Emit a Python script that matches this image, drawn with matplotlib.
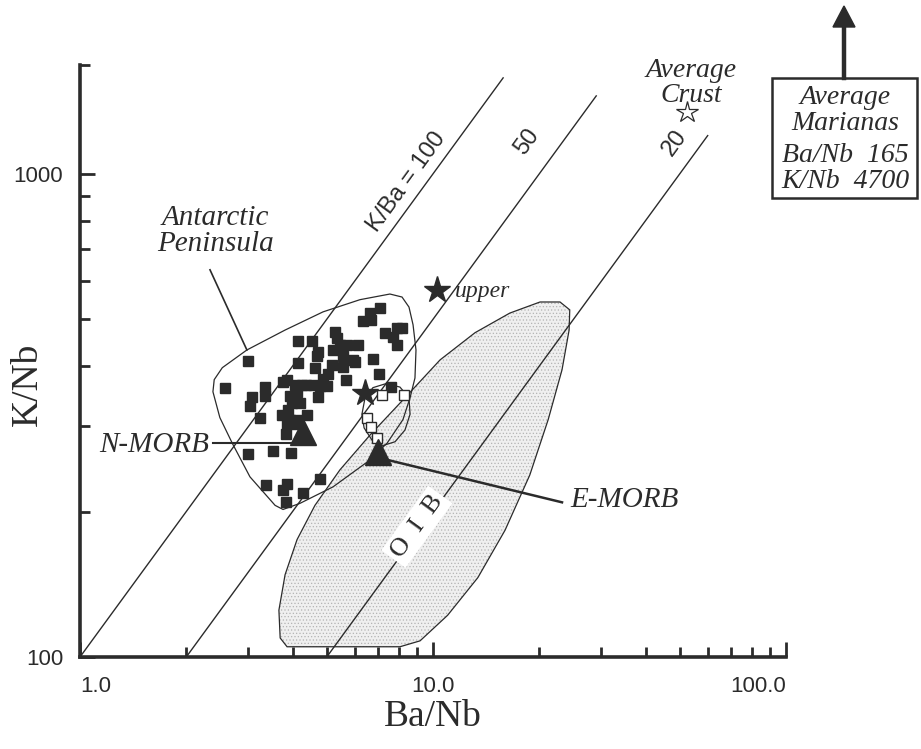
import matplotlib.pyplot as plt
import matplotlib.ticker as mticker
from matplotlib.patches import Polygon, Rectangle

plt.rcParams['font.family'] = ['Liberation Serif', 'DejaVu Serif']
plt.rcParams['hatch.linewidth'] = 0.5

# Antarctic Peninsula lavas (filled squares)
ap_ba_nb = [7.10, 6.65, 6.35, 6.69, 5.26, 5.36, 7.33, 7.93, 8.19, 7.68, 7.93, 4.15, 4.55, 5.46,
            5.72, 6.15, 5.22, 3.00, 4.15, 4.70, 4.73, 5.57, 5.94, 6.03, 6.78, 4.64, 5.19, 5.57,
            5.05, 7.05, 5.68, 4.89, 2.58, 3.35, 3.77, 3.87, 4.07, 4.26, 4.38, 4.58, 4.80, 5.02,
            7.62, 3.08, 3.35, 4.73, 3.94, 4.13, 4.21, 3.99, 3.89, 3.74, 3.03, 3.24, 3.94, 4.15,
            4.40, 3.87, 4.13, 3.84, 3.00, 3.53, 3.97, 3.37, 3.87, 3.77, 4.29, 4.80, 3.84]
ap_k_nb = [528, 516, 496, 499, 471, 457, 469, 480, 480, 460, 442, 451, 451, 442,
           442, 442, 432, 410, 406, 420, 428, 420, 412, 408, 414, 397, 402, 398,
           385, 385, 375, 376, 360, 362, 371, 375, 366, 366, 366, 366, 364, 364,
           362, 345, 347, 345, 347, 354, 336, 336, 325, 317, 331, 313, 310, 310,
           317, 304, 304, 290, 263, 267, 264, 227, 228, 222, 219, 234, 209]

# open squares
open_ba_nb = [7.19, 8.30, 6.52, 6.69, 6.96]
open_k_nb = [349, 349, 313, 299, 284]

# reference compositions
nmorb = [4.29, 292]
emorb = [6.99, 266]
upper_crust = [10.26, 575]
mid_star = [6.42, 352]
avg_crust = [52.5, 1343]

# K/Ba reference lines
kba_ratios = [100, 50, 20]
kba_ends = [15.8, 29.0, 60.0]
kba_labels = ['K/Ba = 100', '50', '20']
kba_label_pos = [[8.4, 960], [18.5, 1165], [48.5, 1160]]

# Antarctic Peninsula field outline
apf_x = [2.38, 2.40, 2.53, 2.97, 3.81, 4.88, 6.21, 7.55, 8.17, 8.55, 8.78, 8.95, 8.89, 8.61,
         8.22, 7.41, 6.50, 5.21, 4.20, 3.76, 3.57, 3.03, 2.70, 2.49]
apf_y = [354, 375, 397, 432, 475, 518, 549, 564, 556, 530, 487, 432, 378, 344,
         310, 277, 253, 225, 208, 202, 206, 236, 277, 313]

# OIB field outline
oib_x = [3.86, 3.69, 3.66, 3.81, 4.12, 4.63, 5.45, 6.63, 8.33, 10.47, 13.15, 16.5, 20.1, 22.9,
         24.4, 24.3, 23.2, 21.2, 18.8, 16.0, 13.4, 11.0, 9.19, 8.06]
oib_y = [105, 109.5, 125, 148, 175, 206, 244, 288, 344, 412, 469, 515, 543, 543,
         523, 475, 393, 310, 238, 183, 146, 122, 108, 105]

# small loop round the open squares
loop_x = [6.29, 6.42, 6.76, 7.36, 8.06, 8.55, 8.61, 8.33, 7.81, 7.22, 6.72, 6.38]
loop_y = [318, 344, 361, 368, 362, 344, 318, 295, 279, 274, 281, 298]

ink = '#2b2b2b'

fig = plt.figure(figsize=(9.21, 7.49), dpi=100)
ax = fig.add_axes([80 / 921, 92 / 749, 706 / 921, 592 / 749])
ax.set_xscale('log')
ax.set_yscale('log')
ax.set_xlim(1, 100)
ax.set_ylim(100, 1680)

# fields
ax.add_patch(Polygon(list(zip(oib_x, oib_y)), closed=True, facecolor='#efefef',
                     edgecolor='#b4b4b4', hatch='.....', lw=0, zorder=1))
ax.add_patch(Polygon(list(zip(oib_x, oib_y)), closed=True, facecolor='none',
                     edgecolor=ink, lw=0.9, zorder=2))
ax.add_patch(Polygon(list(zip(apf_x, apf_y)), closed=True, facecolor='none',
                     edgecolor=ink, lw=0.9, zorder=2))
ax.add_patch(Polygon(list(zip(loop_x, loop_y)), closed=True, facecolor='none',
                     edgecolor=ink, lw=0.9, zorder=2))

# K/Ba lines
for r, xe, lab, pos in zip(kba_ratios, kba_ends, kba_labels, kba_label_pos):
    ax.plot([100 / r, xe], [100, r * xe], color=ink, lw=1.0, zorder=2)
    ax.text(pos[0], pos[1], lab, family='Liberation Sans', fontsize=17, rotation=54,
            ha='center', va='center', rotation_mode='anchor', color=ink)

ax.text(9.0, 186, 'O  I  B', fontsize=19, rotation=54, ha='center', va='center',
        rotation_mode='anchor', color=ink, zorder=3,
        bbox=dict(boxstyle='square,pad=0.15', fc='white', ec='none'))

# samples
ax.plot(ap_ba_nb, ap_k_nb, 's', ms=6.5, color=ink, mec=ink, zorder=4)
ax.plot(open_ba_nb, open_k_nb, 's', ms=6.5, mfc='white', mec=ink, mew=1.0, zorder=4)

# MORB triangles and stars
ax.plot(*nmorb, '^', ms=19, color=ink, zorder=5)
ax.plot(*emorb, '^', ms=19, color=ink, zorder=5)
ax.plot(*upper_crust, '*', ms=20, color=ink, zorder=5)
ax.plot(*mid_star, '*', ms=20, color=ink, zorder=5)
ax.plot(*avg_crust, '*', ms=16, mfc='white', mec=ink, mew=0.9, zorder=5)

# labels and leader lines
ax.plot([2.38, 4.29], [277, 277], color=ink, lw=1.5, zorder=4)
ax.text(2.32, 275, 'N-MORB', fontsize=21, style='italic', ha='right', va='center', color=ink)
ax.plot([7.4, 23.2], [256, 209], color=ink, lw=1.8, zorder=4)
ax.text(24.5, 211, 'E-MORB', fontsize=21, style='italic', ha='left', va='center', color=ink)
ax.plot([2.335, 2.97], [633, 432], color=ink, lw=1.2, zorder=4)
ax.text(2.42, 760, 'Antarctic\nPeninsula', fontsize=21, style='italic', ha='center',
        va='center', linespacing=1.0, color=ink)
ax.text(11.5, 572, 'upper', fontsize=17, style='italic', ha='left', va='center', color=ink)
ax.text(54, 1540, 'Average\nCrust', fontsize=20, style='italic', ha='center', va='center',
        linespacing=1.0, color=ink)

ax.set_xlabel('Ba/Nb', fontsize=27, color=ink)
ax.set_ylabel('K/Nb', fontsize=27, color=ink)
ax.xaxis.set_label_coords(0.5, -0.072)
ax.yaxis.set_label_coords(-0.05, 0.46)

# axes styling
for s in ['top', 'right']:
    ax.spines[s].set_visible(False)
for s in ['left', 'bottom']:
    ax.spines[s].set_linewidth(2.6)
    ax.spines[s].set_color(ink)

ax.xaxis.set_major_locator(mticker.FixedLocator([1, 10, 100]))
ax.xaxis.set_minor_locator(mticker.FixedLocator([m * d for d in (1, 10) for m in range(2, 10)]))
ax.yaxis.set_major_locator(mticker.FixedLocator([100, 1000]))
ax.yaxis.set_minor_locator(mticker.FixedLocator([m * 100 for m in range(2, 10)] + [1680]))
ax.xaxis.set_major_formatter(mticker.FixedFormatter(['1.0', '10.0', '100.0']))
ax.yaxis.set_major_formatter(mticker.FixedFormatter(['100', '1000']))
ax.xaxis.set_minor_formatter(mticker.NullFormatter())
ax.yaxis.set_minor_formatter(mticker.NullFormatter())
ax.tick_params(which='both', direction='in', width=2, color=ink, top=False, right=False,
               labelcolor=ink, labelsize=16)
ax.tick_params(which='major', length=11)
ax.tick_params(which='minor', length=7)
ax.tick_params(axis='x', pad=14)
ax.tick_params(axis='y', pad=12)
for t in ax.get_xticklabels():
    t.set_family('Liberation Sans')
for t in ax.get_yticklabels():
    t.set_family('Liberation Sans')
xl = ax.get_xticklabels()
xl[0].set_ha('left')
xl[2].set_ha('right')

# Marianas box with arrow (off the plot)
fig.patches.append(Rectangle((772 / 921, 1 - 198 / 749), 145 / 921, 120 / 749,
                             transform=fig.transFigure, fill=False, ec=ink, lw=1.8))
fig.add_artist(plt.Line2D([844 / 921, 844 / 921], [1 - 78 / 749, 1 - 24 / 749],
                          transform=fig.transFigure, color=ink, lw=3.2))
fig.add_artist(Polygon([(833 / 921, 1 - 27 / 749), (855 / 921, 1 - 27 / 749),
                        (844 / 921, 1 - 6 / 749)], closed=True,
                       transform=fig.transFigure, fc=ink, ec=ink))
mar_lines = ['Average', 'Marianas', 'Ba/Nb  165', 'K/Nb  4700']
mar_y = [97, 123, 155, 181]
for txt, yy in zip(mar_lines, mar_y):
    fig.text(845 / 921, 1 - yy / 749, txt, fontsize=20, style='italic', ha='center',
             va='center', color=ink)

fig.savefig('out.png', dpi=100)
